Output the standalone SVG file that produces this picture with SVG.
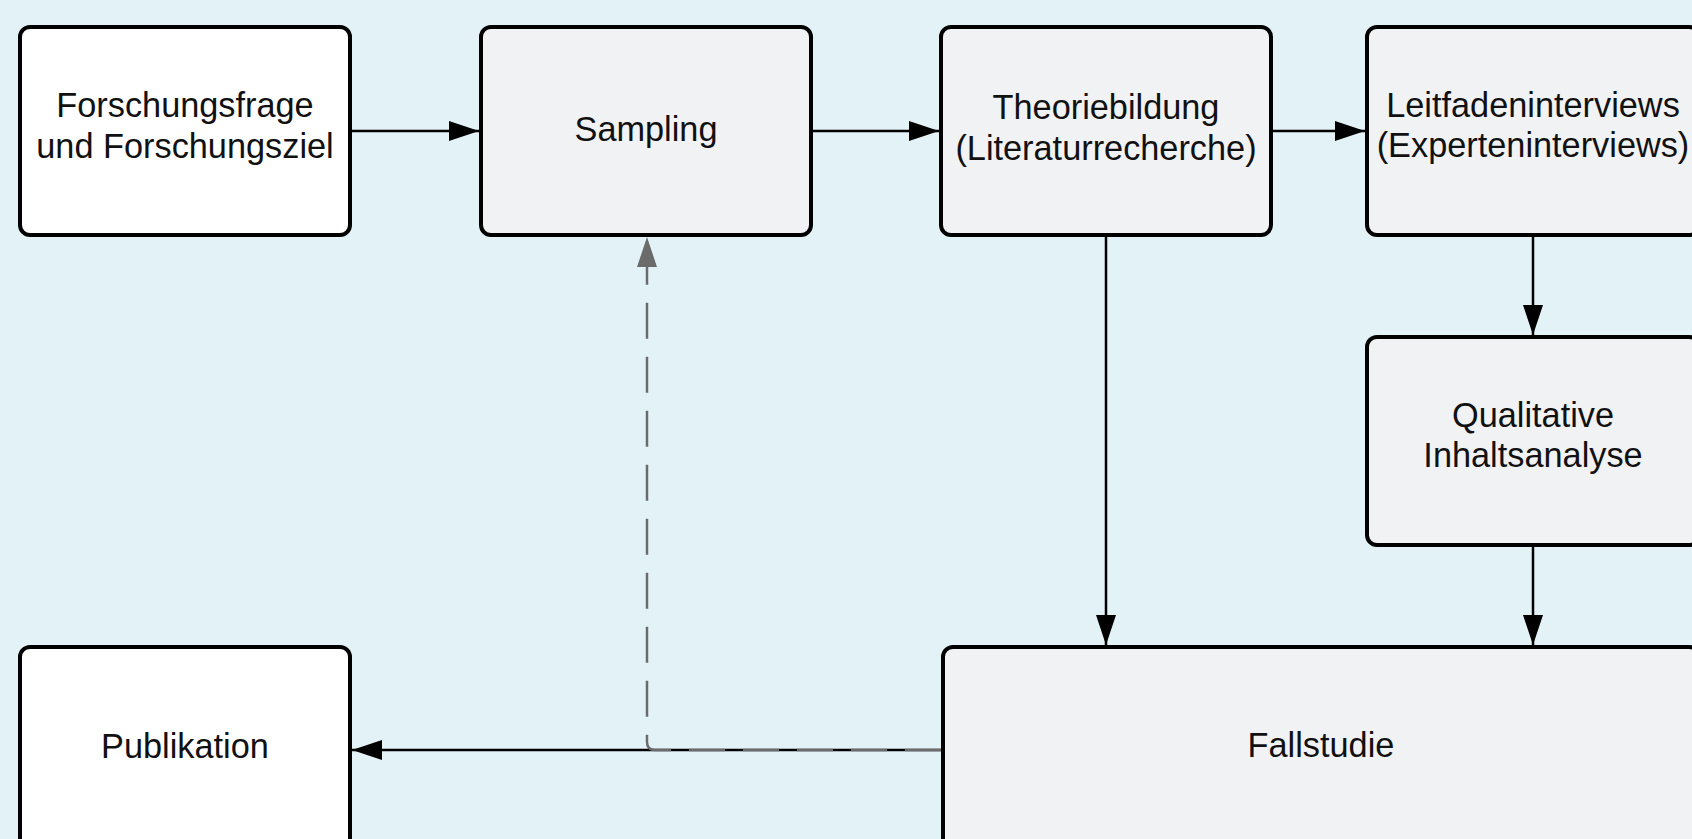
<svg xmlns="http://www.w3.org/2000/svg" width="1692" height="839" viewBox="0 0 1692 839">
  <defs>
    <style>
      .box { stroke: #000; stroke-width: 4; }
      .white { fill: #ffffff; }
      .grey { fill: #F1F2F4; }
      .lbl { font-family: "Liberation Sans", Arial, sans-serif; font-size: 34.3px; fill: #111; text-anchor: middle; }
      .conn { fill: none; stroke: #000; stroke-width: 2.5; }
      .dash { fill: none; stroke: #6b6b6b; stroke-width: 2.5; stroke-dasharray: 36 18; }
    </style>
    <marker id="ah" markerUnits="userSpaceOnUse" markerWidth="30" markerHeight="20" refX="30" refY="10" orient="auto" viewBox="0 0 30 20">
      <path d="M0,0 L30,10 L0,20 z" fill="#000"/>
    </marker>
    <marker id="ahg" markerUnits="userSpaceOnUse" markerWidth="30" markerHeight="20" refX="30" refY="10" orient="auto" viewBox="0 0 30 20">
      <path d="M0,0 L30,10 L0,20 z" fill="#6b6b6b"/>
    </marker>
  </defs>
  <rect x="0" y="0" width="1692" height="839" fill="#E3F2F7"/>

  <g id="connectors">
    <path class="conn" d="M352,131 L479,131" marker-end="url(#ah)"/>
    <path class="conn" d="M813,131 L939,131" marker-end="url(#ah)"/>
    <path class="conn" d="M1273,131 L1365,131" marker-end="url(#ah)"/>
    <path class="conn" d="M1106,237 L1106,645" marker-end="url(#ah)"/>
    <path class="conn" d="M1533,237 L1533,335" marker-end="url(#ah)"/>
    <path class="conn" d="M1533,547 L1533,645" marker-end="url(#ah)"/>
    <path class="conn" d="M941,750 L352,750" marker-end="url(#ah)"/>
    <path class="dash" d="M941,750 L655,750 Q647,750 647,742 L647,237" marker-end="url(#ahg)"/>
  </g>

  <g id="node-forschungsfrage">
    <rect class="box white" x="20" y="27" width="330" height="208" rx="10"/>
    <text class="lbl" x="185" y="117">Forschungsfrage</text>
    <text class="lbl" x="185" y="158">und Forschungsziel</text>
  </g>
  <g id="node-sampling">
    <rect class="box grey" x="481" y="27" width="330" height="208" rx="10"/>
    <text class="lbl" x="646" y="141">Sampling</text>
  </g>
  <g id="node-theoriebildung">
    <rect class="box grey" x="941" y="27" width="330" height="208" rx="10"/>
    <text class="lbl" x="1106" y="119">Theoriebildung</text>
    <text class="lbl" x="1106" y="160">(Literaturrecherche)</text>
  </g>
  <g id="node-leitfadeninterviews">
    <rect class="box grey" x="1367" y="27" width="332" height="208" rx="10"/>
    <text class="lbl" x="1533" y="117">Leitfadeninterviews</text>
    <text class="lbl" x="1533" y="157">(Experteninterviews)</text>
  </g>
  <g id="node-qualitative">
    <rect class="box grey" x="1367" y="337" width="332" height="208" rx="10"/>
    <text class="lbl" x="1533" y="427">Qualitative</text>
    <text class="lbl" x="1533" y="467">Inhaltsanalyse</text>
  </g>
  <g id="node-fallstudie">
    <rect class="box grey" x="943" y="647" width="756" height="208" rx="10"/>
    <text class="lbl" x="1321" y="757">Fallstudie</text>
  </g>
  <g id="node-publikation">
    <rect class="box white" x="20" y="647" width="330" height="208" rx="10"/>
    <text class="lbl" x="185" y="758">Publikation</text>
  </g>
</svg>
